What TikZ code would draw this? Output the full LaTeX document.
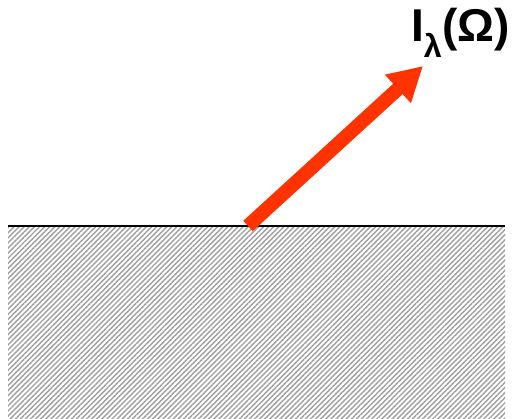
\documentclass[tikz,border=0pt]{standalone}
\usepackage{fontspec}
\setmainfont{Liberation Sans}
\usetikzlibrary{arrows.meta,patterns.meta,positioning}
\definecolor{rayred}{HTML}{FF3300}

\begin{document}
\begin{tikzpicture}[
    x=1pt, y=-1pt,
    every node/.style={font=\fontsize{46}{50}\selectfont\bfseries},
    ground/.style={pattern={Lines[angle=45, distance=3.6pt, line width=1.4pt]}, pattern color=gray!75},
    surface/.style={line width=2pt},
    ray/.style={-{Triangle[length=34pt, width=36pt]}, line width=14pt, draw=rayred}
]
\useasboundingbox (0,0) rectangle (514,419);
\fill[ground] (8,227) rectangle (505,419);
\coordinate (west) at (8,226);
\coordinate (east) at (505,226);
\coordinate (foot) at (248,226);
\coordinate (tip) at (423,66);
\node[anchor=base west, inner sep=0pt] (radiance) at (411,42) {I\textsubscript{λ}(Ω)};
\draw[surface] (west) -- (east);
\draw[ray] (foot) -- (tip);
\end{tikzpicture}
\end{document}
